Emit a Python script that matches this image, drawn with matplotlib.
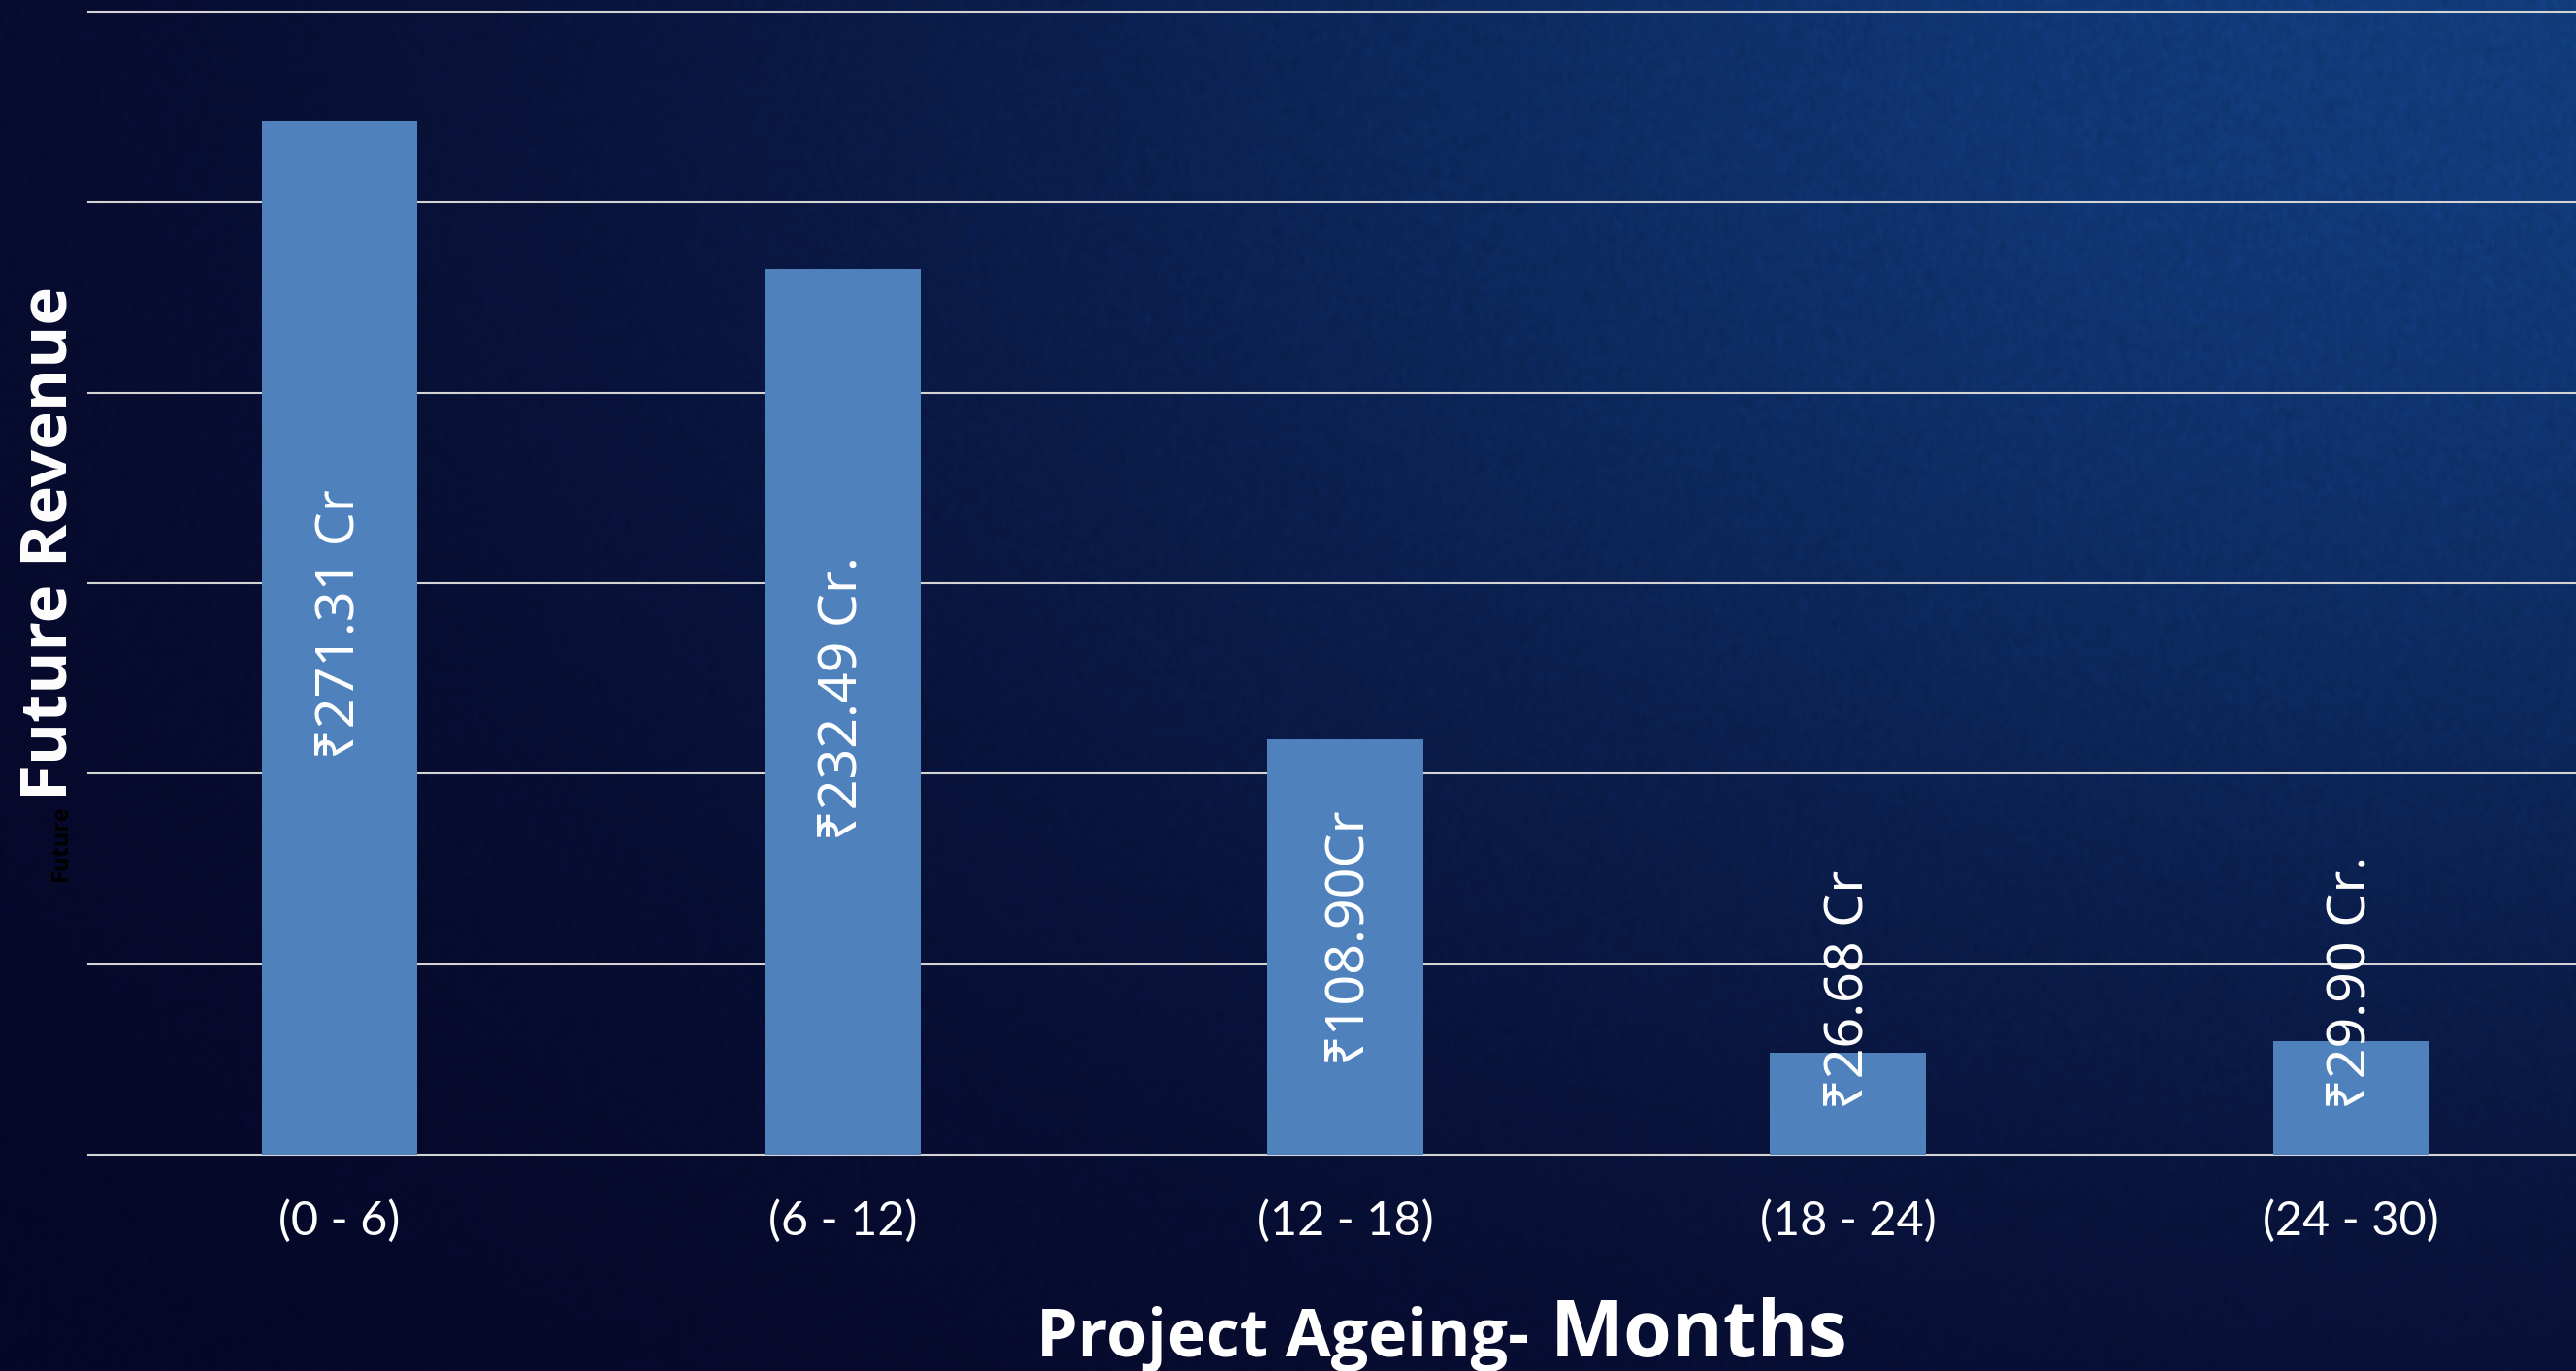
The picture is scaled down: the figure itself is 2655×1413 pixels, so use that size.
import numpy as np
import matplotlib
matplotlib.use('Agg')
import matplotlib.pyplot as plt

# Future revenue by project age bucket (₹ crore)
categories = ['(0 - 6)', '(6 - 12)', '(12 - 18)', '(18 - 24)', '(24 - 30)']
revenue_cr = [271.31, 232.49, 108.90, 26.68, 29.90]
label_suffix = [' Cr', ' Cr.', 'Cr', ' Cr', ' Cr.']

W, H = 2655, 1413
BAR_BLUE = '#4f81bd'
TITLE_FONT = ['Open Sans', 'DejaVu Sans']
LABEL_FONT = ['Noto Sans', 'DejaVu Sans']
TICK_FONT = ['Lato', 'DejaVu Sans']

fig = plt.figure(figsize=(W / 100, H / 100), dpi=100)

# --- background: dark navy with a blue glow towards the top right, slight grain ---
bg = fig.add_axes([0, 0, 1, 1], zorder=-10)
gh, gw = H // 3, W // 3
u, v = np.meshgrid(np.linspace(0, 1, gw), np.linspace(0, 1, gh))
glow_w = np.exp(-((u - 1.0) ** 2 / 0.45 + v ** 2 / 0.6))
base = np.array([6, 6, 38]) / 255
glow = np.array([17, 60, 124]) / 255
rng = np.random.default_rng(7)
grain = rng.normal(0, 1, (gh, gw))
grain = (grain + np.roll(grain, 1, 0) + np.roll(grain, 1, 1) + np.roll(grain, -1, 0)) / 4
img = base + glow_w[..., None] * (glow - base)
img = np.clip(img * (1 + 0.06 * grain[..., None]), 0, 1)
bg.imshow(img, aspect='auto', extent=[0, 1, 0, 1], interpolation='bilinear')
bg.axis('off')

# --- bar chart ---
ax = fig.add_axes([91 / W, 1 - 1190 / H, 1 - 91 / W, (1190 - 12) / H])
ax.patch.set_alpha(0)
x = np.arange(len(categories))
ax.bar(x, revenue_cr, width=0.31, color=BAR_BLUE, zorder=3)
ax.set_xlim(-0.5, 4.448)
ax.set_ylim(0, 300)
ax.set_yticks(np.arange(0, 301, 50))
ax.grid(axis='y', color='#d4d4d4', lw=1.5, zorder=1)
for gl in ax.get_ygridlines():
    gl.set_clip_on(False)
for sp in ax.spines.values():
    sp.set_visible(False)
ax.tick_params(axis='y', left=False, labelleft=False)
ax.set_xticks(x)
ax.set_xticklabels(categories, family=TICK_FONT, fontsize=35, color='white')
ax.tick_params(axis='x', bottom=False, pad=30)

for xi, val, sfx in zip(x, revenue_cr, label_suffix):
    txt = f'₹{val:.2f}{sfx}'
    if val >= 80:
        ax.annotate(txt, (xi, val / 2), xytext=(0, 10), textcoords='offset points',
                    rotation=90, ha='center', va='center', color='white',
                    fontsize=40, fontweight='medium', family=LABEL_FONT, zorder=5)
    else:
        ax.annotate(txt, (xi, 0), xytext=(0, 34), textcoords='offset points',
                    rotation=90, ha='center', va='bottom', color='white',
                    fontsize=40, fontweight='medium', family=LABEL_FONT, zorder=5)

# --- axis titles ---
fig.text(51 / W, 1 - 560 / H, 'Future Revenue', rotation=90, ha='center', va='center',
         fontsize=48.5, fontweight='bold', color='white', family=TITLE_FONT)
fig.text(63 / W, 1 - 869 / H, 'Future', rotation=90, ha='center', va='center',
         fontsize=17, fontweight='bold', color='black', family=TITLE_FONT)

base_y = 1 - 1398 / H
t1 = fig.text(0, base_y, 'Project Ageing-', fontsize=49, fontweight='bold',
              color='white', family=TITLE_FONT, va='baseline')
t2 = fig.text(0, base_y, 'Months', fontsize=58, fontweight='bold',
              color='white', family=TITLE_FONT, va='baseline')
renderer = fig.canvas.get_renderer()
w1 = t1.get_window_extent(renderer).width
w2 = t2.get_window_extent(renderer).width
gap = 22
start = 1486 - (w1 + gap + w2) / 2
t1.set_x(start / W)
t2.set_x((start + w1 + gap) / W)

fig.savefig('out.png', dpi=100)
